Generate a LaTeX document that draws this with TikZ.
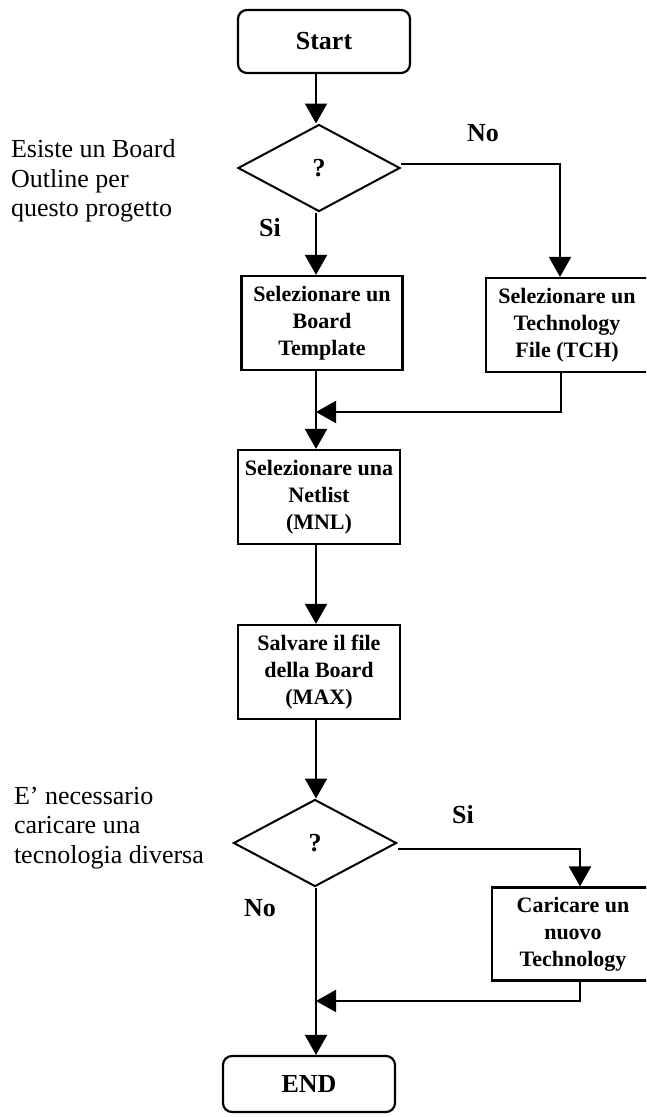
\documentclass[tikz,border=0pt]{standalone}
\usepackage{fontspec}
\setmainfont{Liberation Serif}
\usetikzlibrary{shapes.geometric,arrows.meta}
\begin{document}
\begin{tikzpicture}[x=1pt, y=-1pt, line width=2pt,
	every node/.style={font=\fontsize{22}{27}\selectfont\bfseries, align=center, inner sep=0pt},
	box/.style={draw, line width=2.2pt, minimum width=161pt, minimum height=94pt},
	term/.style={draw, line width=2.2pt, rounded corners=9pt, minimum width=172pt, minimum height=63pt, font=\fontsize{26}{30}\selectfont\bfseries},
	decision/.style={draw, diamond, minimum width=162pt, minimum height=87pt, font=\fontsize{26}{30}\selectfont\bfseries},
	lbl/.style={font=\fontsize{26}{30}\selectfont\bfseries},
	note/.style={font=\fontsize{26}{29.5}\selectfont, align=left, anchor=west},
	arr/.style={-{Triangle[length=20pt, width=22pt]}}]
	
	\clip (0,0) rectangle (646,1117);
	\coordinate (col) at (316,0);
	
	% Prima domanda
	\node[term] (start) at (324,41.5) {Start};
	\node[decision] (q1) at (319,168) {?};
	\node[note] (q1note) at (10,181) {Esiste un Board\\Outline per\\questo progetto};
	\node[lbl] (no1) at (483,133) {No};
	\node[lbl] (si1) at (270,228) {Si};
	\node[box] (board) at (322,323) {Selezionare un\\Board\\Template};
	\node[box, minimum width=162pt] (tch) at (567,325) {Selezionare un\\Technology\\File (TCH)};
	\node[box, minimum width=162pt] (net) at (319,497) {Selezionare una\\Netlist\\(MNL)};
	\node[box, minimum width=162pt] (save) at (319,672) {Salvare il file\\della Board\\(MAX)};
	\coordinate (m1) at (316,412);
	\draw[arr] (start.south -| col) -- (q1.north -| col);
	\draw[arr] (q1.south -| col) -- (board.north -| col);
	\draw[arr] ([yshift=4pt]q1.east) -| ([xshift=-7pt]tch.north);
	\draw[arr] ([xshift=-6pt]tch.south) |- (m1);
	\draw[arr] (board.south -| col) -- (net.north -| col);
	\draw[arr] (net.south -| col) -- (save.north -| col);
	
	% Seconda domanda
	\node[decision, minimum width=163pt] (q2) at (315,843) {?};
	\node[note] (q2note) at (13,828) {E’ necessario\\caricare una\\tecnologia diversa};
	\node[lbl] (si2) at (463,815) {Si};
	\node[lbl] (no2) at (260,908) {No};
	\node[box, minimum width=162pt, minimum height=93pt] (load) at (573,934) {Caricare un\\nuovo\\Technology};
	\node[term, minimum height=56pt] (end) at (309,1084) {END};
	\coordinate (m2) at (316,1001);
	\draw[arr] (save.south -| col) -- (q2.north -| col);
	\draw[arr] ([yshift=-6pt]q2.east) -| ([xshift=7pt]load.north);
	\draw[arr] (q2.south -| col) -- (end.north -| col);
	\draw[arr] ([xshift=7pt]load.south) |- (m2);
\end{tikzpicture}
\end{document}
